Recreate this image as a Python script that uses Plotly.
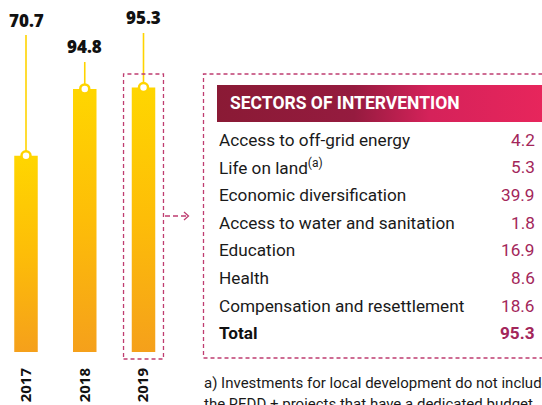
import plotly.graph_objects as go

# Local development investments by year (million)
years = ["2017", "2018", "2019"]
totals = [70.7, 94.8, 95.3]

# 2019 breakdown by sector of intervention
sectors = [
    "Access to off-grid energy",
    "Life on land<sup>(a)</sup>",
    "Economic diversification",
    "Access to water and sanitation",
    "Education",
    "Health",
    "Compensation and resettlement",
]
sector_values = [4.2, 5.3, 39.9, 1.8, 16.9, 8.6, 18.6]
total_label = "Total"
table_title = "SECTORS OF INTERVENTION"
footnote = ["a) Investments for local development do not include",
            "the REDD + projects that have a dedicated budget."]

W, H = 542, 405
YELLOW = "#ffd400"
CRIMSON = "#a3265a"
DASH = "#bf3d70"


def px(x):
    return x / W


def py(y):
    return 1 - y / H


# pixel layout of the bar panel
BASE_PX = 352          # baseline of the bars
PX_PER_UNIT = 2.775
STEP_PX = 58.75
FIRST_PX = 26
PANEL_RIGHT = 200
BAR_W = 0.40
LABEL_Y_PX = [20, 47, 18]

fig = go.Figure()

# gradient-filled bars
for i, v in enumerate(totals):
    fig.add_trace(go.Scatter(
        x=[i - BAR_W / 2, i + BAR_W / 2, i + BAR_W / 2, i - BAR_W / 2, i - BAR_W / 2],
        y=[0, 0, v, v, 0],
        mode="lines", line=dict(width=0), fill="toself",
        fillgradient=dict(type="vertical",
                          colorscale=[[0, "#f5a01b"], [0.5, "#fdbd08"], [1, "#ffd600"]]),
        hoverinfo="skip", showlegend=False,
    ))

# leader lines from value labels down to the bar tops
for i, v in enumerate(totals):
    y_top = (BASE_PX - (LABEL_Y_PX[i] + 15)) / PX_PER_UNIT
    fig.add_shape(type="line", xref="x", yref="y", x0=i, x1=i, y0=v, y1=y_top,
                  line=dict(color=YELLOW, width=1.6), layer="below")
    fig.add_annotation(x=i, y=py(LABEL_Y_PX[i]), xref="x", yref="paper",
                       text=f"{v:.1f}", showarrow=False,
                       font=dict(family="Open Sans", size=17, color="#111", weight=800),
                       xanchor="center", yanchor="middle")

# ring markers at the bar tops
fig.add_trace(go.Scatter(
    x=list(range(len(totals))), y=totals, mode="markers",
    marker=dict(size=9, color="white", line=dict(color=YELLOW, width=2.5)),
    hoverinfo="skip", showlegend=False,
))

# dashed highlight around 2019
fig.add_shape(type="rect", xref="x", yref="paper", x0=2 - 0.34, x1=2 + 0.34,
              y0=py(359), y1=py(74), line=dict(color=DASH, width=1.3, dash="4px,3px"))

# dashed arrow pointing to the table
fig.add_shape(type="line", xref="paper", yref="paper", x0=px(165), x1=px(186),
              y0=py(216), y1=py(216), line=dict(color=DASH, width=1.3, dash="5px,3px"))
fig.add_shape(type="path", xref="paper", yref="paper",
              path=f"M {px(184)} {py(212)} L {px(188.5)} {py(216)} L {px(184)} {py(220)}",
              line=dict(color=DASH, width=1.3))

# dashed frame of the table
fig.add_shape(type="rect", xref="paper", yref="paper", x0=px(203.5), x1=px(560),
              y0=py(358), y1=py(74), line=dict(color=DASH, width=1.3, dash="4px,3px"))

# table header band with horizontal gradient
fig.add_trace(go.Scatter(
    x=[217, 560, 560, 217, 217], y=[85, 85, 122, 122, 85],
    xaxis="x2", yaxis="y2", mode="lines", line=dict(width=0), fill="toself",
    fillgradient=dict(type="horizontal",
                      colorscale=[[0, "#8a1a35"], [0.4, "#951b3f"], [0.62, "#d5225a"], [1, "#ea265c"]]),
    hoverinfo="skip", showlegend=False,
))
fig.add_annotation(x=px(228), y=py(103.5), xref="paper", yref="paper", text=table_title,
                   showarrow=False, xanchor="left", yanchor="middle",
                   font=dict(family="Roboto", size=17.5, color="white", weight=700))

ROW0, ROW_STEP = 139.5, 27.7
rows = list(zip(sectors, sector_values))
for k, (name, val) in enumerate(rows):
    y = py(ROW0 + k * ROW_STEP)
    fig.add_annotation(x=px(217), y=y, xref="paper", yref="paper", text=name,
                       showarrow=False, xanchor="left", yanchor="middle",
                       font=dict(family="Roboto", size=17.2, color="#1a1a1a"))
    fig.add_annotation(x=px(537), y=y, xref="paper", yref="paper", text=f"{val:.1f}",
                       showarrow=False, xanchor="right", yanchor="middle",
                       font=dict(family="Roboto", size=17.2, color=CRIMSON))

y_total = py(ROW0 + len(rows) * ROW_STEP)
fig.add_annotation(x=px(217), y=y_total, xref="paper", yref="paper", text=f"<b>{total_label}</b>",
                   showarrow=False, xanchor="left", yanchor="middle",
                   font=dict(family="Roboto", size=17.2, color="#111"))
fig.add_annotation(x=px(537), y=y_total, xref="paper", yref="paper",
                   text=f"<b>{sum(sector_values):.1f}</b>",
                   showarrow=False, xanchor="right", yanchor="middle",
                   font=dict(family="Roboto", size=17.2, color=CRIMSON))

for j, line in enumerate(footnote):
    fig.add_annotation(x=px(202), y=py(383 + j * 21), xref="paper", yref="paper", text=line,
                       showarrow=False, xanchor="left", yanchor="middle",
                       font=dict(family="Roboto", size=15, color="#1a1a1a"))

x_lo = -FIRST_PX / STEP_PX
x_hi = (PANEL_RIGHT - FIRST_PX) / STEP_PX
fig.update_layout(
    width=W, height=H, margin=dict(l=0, r=0, t=0, b=0),
    paper_bgcolor="white", plot_bgcolor="rgba(0,0,0,0)",
    xaxis=dict(domain=[0, px(PANEL_RIGHT)], range=[x_lo, x_hi],
               tickvals=list(range(len(years))), ticktext=years, tickangle=-90,
               tickfont=dict(family="Open Sans", size=15, color="#111", weight=700),
               ticklabelstandoff=12, showgrid=False, zeroline=False, showline=False,
               ticks="", fixedrange=True),
    yaxis=dict(domain=[py(BASE_PX), 1], range=[0, BASE_PX / PX_PER_UNIT],
               visible=False, fixedrange=True),
    xaxis2=dict(domain=[0, 1], range=[0, W], visible=False, fixedrange=True),
    yaxis2=dict(domain=[0, 1], range=[H, 0], visible=False, fixedrange=True),
    showlegend=False,
)

fig.write_html("out.html")
